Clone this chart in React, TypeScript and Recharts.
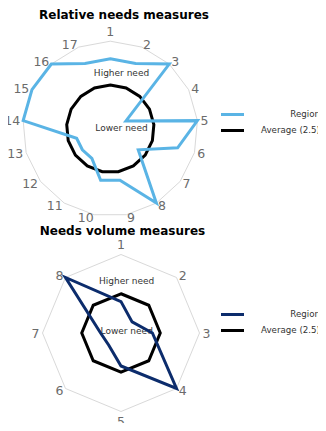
import { RadarChart, Radar, PolarGrid, PolarAngleAxis, PolarRadiusAxis } from 'recharts';

const relativeCategories = ['1', '2', '3', '4', '5', '6', '7', '8', '9', '10', '11', '12', '13', '14', '15', '16', '17'];
const relativeRegion = [4, 4, 5, 1, 5, 4, 2, 5, 3, 3, 2, 2, 2, 5, 5, 5, 4];
const relativeAverage = [2.5, 2.5, 2.5, 2.5, 2.5, 2.5, 2.5, 2.5, 2.5, 2.5, 2.5, 2.5, 2.5, 2.5, 2.5, 2.5, 2.5];

const volumeCategories = ['1', '2', '3', '4', '5', '6', '7', '8'];
const volumeRegion = [2, 1, 2, 5, 2.1, 1.1, 1.3, 5];
const volumeAverage = [2.5, 2.5, 2.5, 2.5, 2.5, 2.5, 2.5, 2.5];

const legendLabels = ['Region', 'Average (2.5)'];

const FONT = '"DejaVu Sans", Verdana, sans-serif';

const makeTick = (cx: number, cy: number, r: number) => (props: any) => {
  const a = (props.payload.coordinate * Math.PI) / 180;
  const c = Math.cos(a);
  const s = Math.sin(a);
  const px = cx + (r + 3) * c;
  const py = cy - (r + 3) * s;
  const mid = Math.abs(c) < 0.1;
  const anchor = mid ? 'middle' : c > 0 ? 'start' : 'end';
  return (
    <text
      x={px}
      y={py + (mid ? -s * 7 : 0)}
      textAnchor={anchor}
      dominantBaseline="central"
      fontSize={12.5}
      fontFamily={FONT}
      fill="#6b6b6b"
    >
      {props.payload.value}
    </text>
  );
};

function LegendBox({ color, top }: { color: string; top: number }) {
  const colors = [color, '#000'];
  return (
    <div style={{ position: 'absolute', left: 221, top, width: 99, fontFamily: FONT, fontSize: 8.7, color: '#333' }}>
      {legendLabels.map((label, i) => (
        <div key={label} style={{ display: 'flex', alignItems: 'center', height: 16 }}>
          <div style={{ width: 23, height: 3, background: colors[i] }} />
          <div style={{ flex: 1, textAlign: 'right', whiteSpace: 'nowrap' }}>{label}</div>
        </div>
      ))}
    </div>
  );
}

interface RadarProps {
  categories: string[];
  region: number[];
  average: number[];
  color: string;
  width: number;
  height: number;
  cx: number;
  cy: number;
  r: number;
  higherY: number;
  lowerY: number;
  textX: number;
}

function NeedsRadar(p: RadarProps) {
  const data = p.categories.map((name, i) => ({ name, region: p.region[i], average: p.average[i] }));
  return (
    <RadarChart
      width={p.width}
      height={p.height}
      data={data}
      cx={p.cx}
      cy={p.cy}
      outerRadius={p.r}
      margin={{ top: 0, right: 0, bottom: 0, left: 0 }}
    >
      <PolarGrid gridType="polygon" radialLines={false} polarRadius={[p.r]} stroke="#d9d9d9" strokeWidth={1} />
      <PolarAngleAxis dataKey="name" tick={makeTick(p.cx, p.cy, p.r)} tickLine={false} axisLine={false} />
      <PolarRadiusAxis domain={[0, 5]} tick={false} axisLine={false} />
      <text x={p.textX} y={p.higherY} textAnchor="middle" dominantBaseline="central" fontSize={9} fontFamily={FONT} fill="#333">
        Higher need
      </text>
      <text x={p.textX} y={p.lowerY} textAnchor="middle" dominantBaseline="central" fontSize={9} fontFamily={FONT} fill="#333">
        Lower need
      </text>
      <Radar dataKey="average" stroke="#000" strokeWidth={3} fill="none" isAnimationActive={false} />
      <Radar dataKey="region" stroke={p.color} strokeWidth={3} fill="none" isAnimationActive={false} />
    </RadarChart>
  );
}

export default function App() {
  return (
    <div style={{ position: 'relative', width: 326, height: 431, margin: -8, fontFamily: FONT, overflow: 'hidden' }}>
      <div style={{ position: 'absolute', left: 0, top: 0 }}>
        <NeedsRadar
          categories={relativeCategories}
          region={relativeRegion}
          average={relativeAverage}
          color="#5ab4e5"
          width={326}
          height={232}
          cx={110.3}
          cy={128.7}
          r={87.5}
          higherY={72.7}
          lowerY={128.3}
          textX={121.5}
        />
      </div>
      <div style={{ position: 'absolute', left: 0, top: 222 }}>
        <NeedsRadar
          categories={volumeCategories}
          region={volumeRegion}
          average={volumeAverage}
          color="#0c2c6c"
          width={326}
          height={209}
          cx={121}
          cy={111}
          r={78.5}
          higherY={58.7}
          lowerY={109}
          textX={126.7}
        />
      </div>
      <LegendBox color="#5ab4e5" top={106.3} />
      <LegendBox color="#0c2c6c" top={306.3} />
      <div style={{ position: 'absolute', left: 0, top: 8, width: 248, textAlign: 'center', fontWeight: 'bold', fontSize: 12, lineHeight: '14px' }}>
        Relative needs measures
      </div>
      <div style={{ position: 'absolute', left: 0, top: 224, width: 245, textAlign: 'center', fontWeight: 'bold', fontSize: 12, lineHeight: '14px' }}>
        Needs volume measures
      </div>
    </div>
  );
}
